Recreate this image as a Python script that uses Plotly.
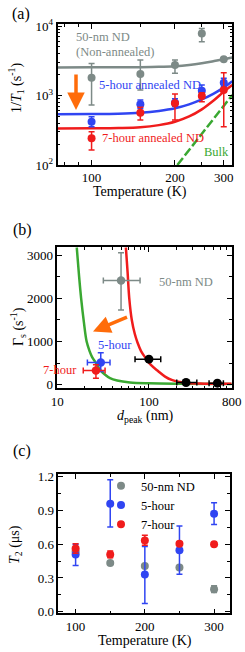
import plotly.graph_objects as go

W, H = 245, 652
FONT = "Liberation Serif"

GRAY = "#7d8a87"
BLUE = "#3045f2"
RED = "#f01c1c"
GREEN = "#3aa832"
ORANGE = "#ff6c0a"
BLACK = "#000000"

# ---------------- Panel (a): 1/T1 vs temperature ----------------
T_a = [100, 150, 200, 250, 300]
gray_a = [1800, 2040, 2750, 7850, 3320]
gray_a_hi = [2900, 3240, 3240, 9200, 3480]
gray_a_lo = [730, 1200, 2090, 5960, 3170]
blue_a = [420, 747, 790, 1172, 1528]
blue_a_hi = [495, 862, 900, 1416, 1767]
blue_a_lo = [356, 650, 700, 1000, 1339]
red_a = [242, 566, 773, 984, 1200]
red_a_hi = [301, 676, 1050, 1097, 2128]
red_a_lo = [164, 444, 444, 815, 356]

T_fit = [75, 100, 125, 150, 175, 200, 225, 250, 275, 300, 322]
gray_fit = [2540, 2545, 2550, 2560, 2590, 2650, 2760, 2920, 3120, 3330, 3520]
blue_fit = [540, 542, 548, 565, 600, 655, 745, 880, 1060, 1300, 1600]
red_fit = [335, 337, 340, 349, 375, 420, 500, 633, 840, 1134, 1416]
T_bulk = [204, 322]
bulk_fit = [100, 1017]

# ---------------- Panel (b): Gamma_s vs d_peak ----------------
d_gray = [49.6]; g_gray = [2410]
d_gray_lo = [31.8]; d_gray_hi = [80]
g_gray_lo = [1730]; g_gray_hi = [3055]
d_blue = [29.8]; g_blue = [515]
d_blue_lo = [21.3]; d_blue_hi = [37.6]
g_blue_lo = [310]; g_blue_hi = [740]
d_red = [26.4]; g_red = [330]
d_red_lo = [19.2]; d_red_hi = [33.2]
g_red_lo = [155]; g_red_hi = [462]
d_black = [100, 254, 558]; g_black = [593, 53, 39]
d_black_lo = [70.5, 201, 453]; d_black_hi = [134.5, 333, 649]

d_green = [16.3, 17.3, 18.2, 19.5, 20.9, 22.5, 24, 26.5, 29.3, 33, 37.6, 45, 62, 100, 200, 800]
g_green = [3180, 2500, 2000, 1450, 1000, 780, 640, 500, 346, 240, 155, 100, 55, 35, 25, 20]
d_redc = [56, 58.5, 61, 65, 70, 75, 82, 92, 105, 127, 150, 177, 220, 260, 400, 800]
g_redc = [3180, 2600, 2000, 1500, 1180, 980, 780, 620, 460, 310, 190, 115, 65, 40, 28, 25]

# ---------------- Panel (c): T2 vs temperature ----------------
T_c = [100, 150, 200, 250, 300]
gray_c = [0.535, 0.434, 0.407, 0.393, 0.200]
gray_c_hi = [0.545, 0.444, 0.417, 0.403, 0.230]
gray_c_lo = [0.525, 0.424, 0.397, 0.383, 0.170]
blue_c = [0.508, 0.959, 0.331, 0.546, 0.871]
blue_c_hi = [0.600, 1.174, 0.580, 0.761, 0.968]
blue_c_lo = [0.410, 0.752, 0.074, 0.334, 0.776]
red_c = [0.561, 0.508, 0.634, 0.605, 0.599]
red_c_hi = [0.605, 0.540, 0.679, 0.620, 0.610]
red_c_lo = [0.520, 0.480, 0.590, 0.590, 0.590]


def up(v, hi):
    return [h - x for x, h in zip(v, hi)]


def dn(v, lo):
    return [x - l for x, l in zip(v, lo)]


def px(x):
    return x / W


def py(y):
    return 1 - y / H


fig = go.Figure()

# ---- (a) curves
for ys, c in [(gray_fit, GRAY), (blue_fit, BLUE), (red_fit, RED)]:
    fig.add_trace(go.Scatter(x=T_fit, y=ys, mode="lines", line=dict(color=c, width=2.5, shape="spline"),
                             xaxis="x", yaxis="y", showlegend=False, hoverinfo="skip"))
fig.add_trace(go.Scatter(x=T_bulk, y=bulk_fit, mode="lines", line=dict(color=GREEN, width=2.5, dash="9px,3px"),
                         xaxis="x", yaxis="y", showlegend=False))
for ys, hi, lo, c in [(gray_a, gray_a_hi, gray_a_lo, GRAY), (blue_a, blue_a_hi, blue_a_lo, BLUE),
                      (red_a, red_a_hi, red_a_lo, RED)]:
    fig.add_trace(go.Scatter(x=T_a, y=ys, mode="markers", marker=dict(color=c, size=8),
                             error_y=dict(type="data", symmetric=False, array=up(ys, hi), arrayminus=dn(ys, lo),
                                          color=c, thickness=1.5, width=3),
                             xaxis="x", yaxis="y", showlegend=False))

# ---- (b) curves
fig.add_trace(go.Scatter(x=d_green, y=g_green, mode="lines", line=dict(color=GREEN, width=2.5, shape="spline"),
                         xaxis="x2", yaxis="y2", showlegend=False))
fig.add_trace(go.Scatter(x=d_redc, y=g_redc, mode="lines", line=dict(color=RED, width=2.5, shape="spline"),
                         xaxis="x2", yaxis="y2", showlegend=False))
for xs, ys, xlo, xhi, ylo, yhi, c in [
    (d_gray, g_gray, d_gray_lo, d_gray_hi, g_gray_lo, g_gray_hi, GRAY),
    (d_blue, g_blue, d_blue_lo, d_blue_hi, g_blue_lo, g_blue_hi, BLUE),
    (d_red, g_red, d_red_lo, d_red_hi, g_red_lo, g_red_hi, RED),
]:
    fig.add_trace(go.Scatter(x=xs, y=ys, mode="markers", marker=dict(color=c, size=8.5),
                             error_x=dict(type="data", symmetric=False, array=up(xs, xhi), arrayminus=dn(xs, xlo),
                                          color=c, thickness=1.5, width=3),
                             error_y=dict(type="data", symmetric=False, array=up(ys, yhi), arrayminus=dn(ys, ylo),
                                          color=c, thickness=1.5, width=3),
                             xaxis="x2", yaxis="y2", showlegend=False))
fig.add_trace(go.Scatter(x=d_black, y=g_black, mode="markers", marker=dict(color=BLACK, size=9),
                         error_x=dict(type="data", symmetric=False, array=up(d_black, d_black_hi),
                                      arrayminus=dn(d_black, d_black_lo), color=BLACK, thickness=1.5, width=3),
                         xaxis="x2", yaxis="y2", showlegend=False))

# ---- (c)
for name, ys, hi, lo, c in [("50-nm ND", gray_c, gray_c_hi, gray_c_lo, GRAY),
                            ("5-hour", blue_c, blue_c_hi, blue_c_lo, BLUE),
                            ("7-hour", red_c, red_c_hi, red_c_lo, RED)]:
    fig.add_trace(go.Scatter(x=T_c, y=ys, mode="markers", name=name, marker=dict(color=c, size=8),
                             error_y=dict(type="data", symmetric=False, array=up(ys, hi), arrayminus=dn(ys, lo),
                                          color=c, thickness=1.5, width=3),
                             xaxis="x3", yaxis="y3", showlegend=True))

tickfont = dict(family=FONT, size=13, color="black")
common = dict(showline=True, linecolor="black", linewidth=1.5, mirror="ticks", ticks="inside",
              ticklen=5, tickwidth=1.2, tickcolor="black", showgrid=False, zeroline=False,
              tickfont=tickfont, tickmode="array", automargin=False)

minor_a_y = [200, 300, 400, 500, 600, 700, 800, 900, 2000, 3000, 4000, 5000, 6000, 7000, 8000, 9000]
minor_b_x = [20, 30, 40, 50, 60, 70, 80, 90, 200, 300, 400, 500, 600, 700]

fig.update_layout(
    width=W, height=H, margin=dict(l=0, r=0, t=0, b=0),
    paper_bgcolor="white", plot_bgcolor="white",
    font=dict(family=FONT, size=13, color="black"),
    xaxis=dict(common, type="log", domain=[px(57.5), px(232.3)], range=[1.877, 2.508], anchor="y",
               tickvals=[100, 200, 300], ticktext=["100", "200", "300"],
               minor=dict(ticks="inside", ticklen=3, tickcolor="black", tickvals=[80, 90, 150, 250])),
    yaxis=dict(common, type="log", domain=[py(165), py(24)], range=[2, 4.03], anchor="x",
               tickvals=[100, 1000, 10000], ticktext=["10<sup>2</sup>", "10<sup>3</sup>", "10<sup>4</sup>"],
               minor=dict(ticks="inside", ticklen=3, tickcolor="black", tickvals=minor_a_y)),
    xaxis2=dict(common, type="log", domain=[px(57.3), px(231.7)], range=[1, 2.903], anchor="y2",
                tickvals=[10, 100, 800], ticktext=["10", "100", "800"],
                minor=dict(ticks="inside", ticklen=3, tickcolor="black", tickvals=minor_b_x)),
    yaxis2=dict(common, domain=[py(388.3), py(247.3)], range=[-80, 3180], anchor="x2",
                tickvals=[0, 1000, 2000, 3000], ticktext=["0", "1000", "2000", "3000"],
                minor=dict(ticks="inside", ticklen=3, tickcolor="black", tickvals=[500, 1500, 2500])),
    xaxis3=dict(common, domain=[px(58.3), px(230)], range=[75, 323], anchor="y3",
                tickvals=[100, 200, 300], ticktext=["100", "200", "300"],
                minor=dict(ticks="inside", ticklen=3, tickcolor="black", tickvals=[150, 250])),
    yaxis3=dict(common, domain=[py(613.3), py(474)], range=[-0.014, 1.224], anchor="x3",
                tickvals=[0, 0.3, 0.6, 0.9, 1.2], ticktext=["0.0", "0.3", "0.6", "0.9", "1.2"],
                minor=dict(ticks="inside", ticklen=3, tickcolor="black", tickvals=[0.15, 0.45, 0.75, 1.05])),
    legend=dict(x=px(101), y=py(471), xanchor="left", yanchor="top", bgcolor="rgba(0,0,0,0)",
                font=dict(family=FONT, size=12.5, color="black"), tracegroupgap=0, itemwidth=30),
)

ann = []


def text(x, y, s, color="black", size=12.5, xanchor="left", angle=0):
    ann.append(dict(x=px(x), y=py(y), xref="paper", yref="paper", text=s, showarrow=False,
                    xanchor=xanchor, yanchor="middle", textangle=angle,
                    font=dict(family=FONT, size=size, color=color)))


# panel labels
text(21, 14, "(a)", size=16, xanchor="center")
text(22, 230, "(b)", size=16, xanchor="center")
text(22, 451, "(c)", size=16, xanchor="center")

# axis titles
text(16, 88, "1/<i>T</i><sub>1</sub> (s<sup>-1</sup>)", size=14, xanchor="center", angle=-90)
text(140, 191.7, "Temperature (K)", size=14, xanchor="center")
text(18, 327, "Γ<sub>s</sub> (s<sup>-1</sup>)", size=14, xanchor="center", angle=-90)
text(145, 416, "<i>d</i><sub>peak</sub> (nm)", size=14, xanchor="center")
text(15, 545, "<i>T</i><sub>2</sub> (μs)", size=14, xanchor="center", angle=-90)
text(145, 640.7, "Temperature (K)", size=14, xanchor="center")

# panel (a) labels
text(74.3, 36.7, "50-nm ND", GRAY)
text(74, 51.7, "(Non-annealed)", GRAY)
text(96.7, 85, "5-hour annealed ND", BLUE)
text(100, 137.8, "7-hour annealed ND", RED)
text(201.7, 151.7, "Bulk", GREEN)

# panel (b) labels
text(156.7, 281.7, "50-nm ND", GRAY)
text(96, 345.3, "5-hour", BLUE)
text(79, 369.5, "7-hour", RED, xanchor="right")

# arrows
ann.append(dict(x=px(76), y=py(110), xref="paper", yref="paper", ax=0, ay=-37, axref="pixel", ayref="pixel",
                text="", showarrow=True, arrowhead=2, arrowsize=1, arrowwidth=3.5, arrowcolor=ORANGE,
                standoff=0, startstandoff=0))
ann.append(dict(x=px(93), y=py(331.5), xref="paper", yref="paper", ax=35.5, ay=-15, axref="pixel", ayref="pixel",
                text="", showarrow=True, arrowhead=2, arrowsize=1, arrowwidth=3.5, arrowcolor=ORANGE,
                standoff=0, startstandoff=0))

fig.update_layout(annotations=ann)
fig.write_html("out.html", config={"displayModeBar": False, "responsive": False},
               post_script="document.body.style.margin='0';document.body.style.padding='0';"
                           "document.documentElement.style.overflow='hidden';")
